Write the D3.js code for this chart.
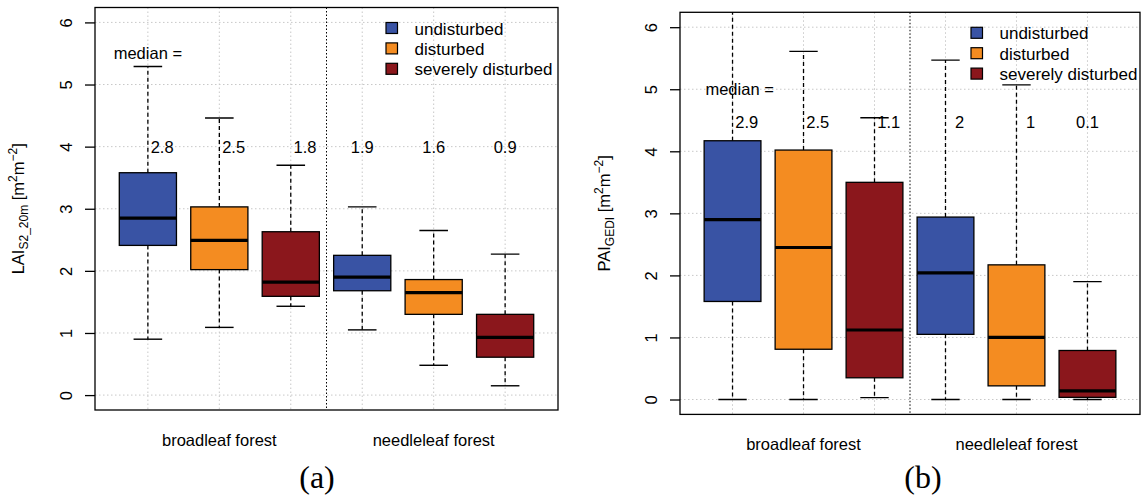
<!DOCTYPE html>
<html>
<head>
<meta charset="utf-8">
<script src="https://cdn.jsdelivr.net/npm/d3@7"></script>
<style>
  body { margin: 0; background: #fff; }
  svg { display: block; }
  text { font-family: "Liberation Sans", Arial, sans-serif; fill: #000; }
</style>
</head>
<body>
<div id="chart"></div>
<script>
const classes = ["undisturbed", "disturbed", "severely disturbed"];
const classColors = ["#3953a4", "#f48c21", "#8b171c"];
const forests = ["broadleaf forest", "needleleaf forest"];
const yTicks = [0, 1, 2, 3, 4, 5, 6];

// [lower whisker, q1, median, q3, upper whisker], 3 classes per forest type
const laiStats = [
    [0.90, 2.41, 2.85, 3.58, 5.29],
    [1.09, 2.02, 2.49, 3.03, 4.46],
    [1.43, 1.59, 1.82, 2.63, 3.70],
    [1.05, 1.68, 1.90, 2.25, 3.03],
    [0.48, 1.30, 1.65, 1.86, 2.65],
    [0.15, 0.61, 0.93, 1.30, 2.27]
];
const laiMedianLabels = ["2.8", "2.5", "1.8", "1.9", "1.6", "0.9"];
const laiLabelPos = [1.2, 2.2, 3.2, 4, 5, 6];

const paiStats = [
    [0.00, 1.58, 2.90, 4.17, 6.60],
    [0.00, 0.81, 2.45, 4.02, 5.61],
    [0.03, 0.35, 1.12, 3.50, 4.54],
    [0.00, 1.05, 2.04, 2.94, 5.47],
    [0.00, 0.22, 1.00, 2.17, 5.07],
    [0.00, 0.035, 0.14, 0.79, 1.90]
];
const paiMedianLabels = ["2.9", "2.5", "1.1", "2", "1", "0.1"];
const paiLabelPos = [1.2, 2.2, 3.2, 4.2, 5.2, 6];

const svg = d3.select('#chart').append('svg')
    .attr('width', 1142).attr('height', 497);

function drawPanel(p) {
    const x = d3.scaleLinear().domain([0.26, 6.74]).range([p.left, p.right]);
    const y = d3.scaleLinear().domain([-0.24, 6.24]).range([p.bottom, p.top]);
    const g = svg.append('g');
    const clipId = 'clip' + p.id;

    g.append('clipPath').attr('id', clipId)
        .append('rect')
        .attr('x', p.left).attr('y', p.top)
        .attr('width', p.right - p.left).attr('height', p.bottom - p.top);

    // grid
    const grid = g.append('g').attr('stroke', '#c8c8c8').attr('stroke-dasharray', '1.5,2.5');
    grid.selectAll('.gy').data(yTicks).join('line')
        .attr('x1', p.left).attr('x2', p.right)
        .attr('y1', d => y(d)).attr('y2', d => y(d));
    grid.selectAll('.gx').data(d3.range(1, 7)).join('line')
        .attr('x1', d => x(d)).attr('x2', d => x(d))
        .attr('y1', p.top).attr('y2', p.bottom);

    // separator between forest types
    g.append('line')
        .attr('x1', x(3.5)).attr('x2', x(3.5))
        .attr('y1', p.top).attr('y2', p.bottom)
        .attr('stroke', '#000').attr('stroke-dasharray', '1.5,2');

    // boxes
    const bw = 0.8;
    const boxes = g.append('g').attr('clip-path', 'url(#' + clipId + ')')
        .selectAll('g').data(p.stats).join('g');

    boxes.append('line')
        .attr('x1', (d, i) => x(i + 1)).attr('x2', (d, i) => x(i + 1))
        .attr('y1', d => y(d[3])).attr('y2', d => y(d[4]))
        .attr('stroke', '#000').attr('stroke-width', 1.3).attr('stroke-dasharray', '4,3');
    boxes.append('line')
        .attr('x1', (d, i) => x(i + 1)).attr('x2', (d, i) => x(i + 1))
        .attr('y1', d => y(d[1])).attr('y2', d => y(d[0]))
        .attr('stroke', '#000').attr('stroke-width', 1.3).attr('stroke-dasharray', '4,3');
    [0, 4].forEach(k => {
        boxes.append('line')
            .attr('x1', (d, i) => x(i + 1 - bw / 4)).attr('x2', (d, i) => x(i + 1 + bw / 4))
            .attr('y1', d => y(d[k])).attr('y2', d => y(d[k]))
            .attr('stroke', '#000').attr('stroke-width', 1.4);
    });
    boxes.append('rect')
        .attr('x', (d, i) => x(i + 1 - bw / 2))
        .attr('width', x(bw) - x(0))
        .attr('y', d => y(d[3]))
        .attr('height', d => y(d[1]) - y(d[3]))
        .attr('fill', (d, i) => classColors[i % 3])
        .attr('stroke', '#000').attr('stroke-width', 1.3);
    boxes.append('line')
        .attr('x1', (d, i) => x(i + 1 - bw / 2)).attr('x2', (d, i) => x(i + 1 + bw / 2))
        .attr('y1', d => y(d[2])).attr('y2', d => y(d[2]))
        .attr('stroke', '#000').attr('stroke-width', 3.2);

    // median annotations
    g.append('text').attr('x', x(p.titleX)).attr('y', y(p.titleY) + 6)
        .attr('text-anchor', 'middle').attr('font-size', 16.5).text('median =');
    g.selectAll('.med').data(p.medians).join('text')
        .attr('x', (d, i) => x(p.labelPos[i])).attr('y', y(p.labelY) + 6)
        .attr('text-anchor', 'middle').attr('font-size', 16.5).text(d => d);

    // frame
    g.append('rect')
        .attr('x', p.left).attr('y', p.top)
        .attr('width', p.right - p.left).attr('height', p.bottom - p.top)
        .attr('fill', 'none').attr('stroke', '#000').attr('stroke-width', 1.3);

    // y axis
    const ax = g.append('g').attr('transform', 'translate(' + p.left + ',0)')
        .call(d3.axisLeft(y).tickValues(yTicks).tickSize(10).tickFormat(d3.format('d')));
    ax.select('.domain').remove();
    ax.selectAll('.tick line').attr('stroke', '#000').attr('stroke-width', 1.3);
    ax.selectAll('.tick text')
        .attr('transform', 'rotate(-90)')
        .attr('x', 0).attr('y', -23).attr('dy', null)
        .attr('text-anchor', 'middle')
        .attr('font-size', 16.5).attr('font-family', '"Liberation Sans", Arial, sans-serif');

    // forest labels
    g.selectAll('.fl').data(forests).join('text')
        .attr('x', (d, i) => x(2 + i * 3)).attr('y', p.bottom + 36)
        .attr('text-anchor', 'middle').attr('font-size', 16.5).text(d => d);

    // y label with sub/superscripts, centred on the plot
    const yl = g.append('text')
        .attr('transform', 'translate(' + p.ylabX + ',' + (p.top + p.bottom) / 2 + ') rotate(-90)')
        .attr('text-anchor', 'middle').attr('font-size', 16.5);
    yl.append('tspan').text(p.ylabMain);
    yl.append('tspan').attr('dy', 4).attr('font-size', 12).text(p.ylabSub);
    yl.append('tspan').attr('dy', -4).text(' [m');
    yl.append('tspan').attr('dy', -7).attr('font-size', 12).text('2');
    yl.append('tspan').attr('dy', 7).text('m');
    yl.append('tspan').attr('dy', -7).attr('font-size', 12).text('\u22122');
    yl.append('tspan').attr('dy', 7).text(']');

    // legend
    const lg = g.append('g').attr('transform', 'translate(' + (p.left + 291) + ',' + (p.top + 21) + ')');
    const items = lg.selectAll('g').data(classes).join('g')
        .attr('transform', (d, i) => 'translate(0,' + i * 20.4 + ')');
    items.append('rect').attr('x', 0).attr('y', -6).attr('width', 11.5).attr('height', 11)
        .attr('fill', (d, i) => classColors[i]).attr('stroke', '#000').attr('stroke-width', 1.2);
    items.append('text').attr('x', 28.5).attr('y', 6).attr('font-size', 17).text(d => d);

    // panel letter
    svg.append('text').attr('x', p.letterX).attr('y', 488)
        .attr('text-anchor', 'middle')
        .style('font-family', '"Liberation Serif", "Times New Roman", serif')
        .attr('font-size', 32).text(p.letter);
}

drawPanel({
    id: 'a', left: 95, right: 558, top: 7.5, bottom: 410,
    stats: laiStats, medians: laiMedianLabels, labelPos: laiLabelPos,
    labelY: 4, titleY: 5.5, titleX: 1,
    ylabMain: 'LAI', ylabSub: 'S2_20m', ylabX: 24,
    letter: '(a)', letterX: 317
});

drawPanel({
    id: 'b', left: 680, right: 1140, top: 12.3, bottom: 414.4,
    stats: paiStats, medians: paiMedianLabels, labelPos: paiLabelPos,
    labelY: 4.48, titleY: 5.0, titleX: 1.1,
    ylabMain: 'PAI', ylabSub: 'GEDI', ylabX: 610,
    letter: '(b)', letterX: 923
});
</script>
</body>
</html>
